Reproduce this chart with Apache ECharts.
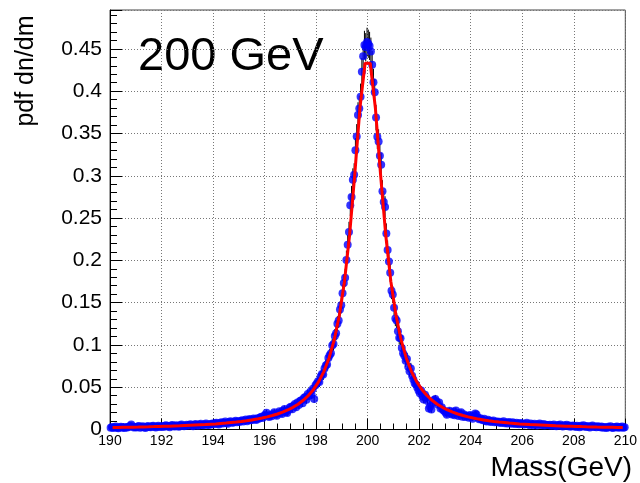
<!DOCTYPE html>
<html>
<head>
<meta charset="utf-8">
<script src="https://cdn.jsdelivr.net/npm/echarts@6/dist/echarts.min.js"></script>
<style>
html,body{margin:0;padding:0;background:#fff;}
#chart{width:640px;height:483px;}
</style>
</head>
<body>
<div id="chart"></div>
<script>
// Histogram binning (400 bins of 0.05 GeV from 190 to 210)
const binLow = 190;
const binWidth = 0.05;

// Measured pdf dn/dm per bin (left to right)
const pdfValues = [
0.0021,0.0030,0.0018,0.0026,0.0035,0.0022,0.0015,0.0028,0.0033,0.0020,0.0027,0.0019,0.0031,0.0024,0.0029,0.0042,0.0058,0.0036,0.0023,0.0030,
0.0025,0.0034,0.0040,0.0022,0.0031,0.0037,0.0028,0.0019,0.0033,0.0041,0.0030,0.0026,0.0038,0.0045,0.0032,0.0024,0.0036,0.0043,0.0029,0.0035,
0.0039,0.0031,0.0044,0.0050,0.0034,0.0041,0.0028,0.0046,0.0053,0.0038,0.0035,0.0049,0.0042,0.0033,0.0051,0.0058,0.0044,0.0037,0.0048,0.0055,
0.0043,0.0052,0.0061,0.0047,0.0039,0.0056,0.0064,0.0050,0.0045,0.0059,0.0068,0.0054,0.0049,0.0062,0.0071,0.0057,0.0052,0.0066,0.0060,0.0070,
0.0063,0.0074,0.0080,0.0067,0.0059,0.0078,0.0087,0.0072,0.0081,0.0095,0.0076,0.0069,0.0088,0.0098,0.0083,0.0079,0.0093,0.0102,0.0086,0.0097,
0.0089,0.0101,0.0110,0.0094,0.0106,0.0118,0.0099,0.0112,0.0125,0.0108,0.0116,0.0131,0.0121,0.0113,0.0134,0.0127,0.0142,0.0151,0.0136,0.0160,
0.0175,0.0198,0.0162,0.0149,0.0171,0.0158,0.0183,0.0205,0.0176,0.0163,0.0191,0.0215,0.0199,0.0184,0.0226,0.0243,0.0208,0.0195,0.0232,0.0261,
0.0268,0.0239,0.0281,0.0302,0.0263,0.0318,0.0289,0.0336,0.0347,0.0310,0.0371,0.0385,0.0352,0.0420,0.0398,0.0446,0.0412,0.0481,0.0362,0.0524,
0.0545,0.0571,0.0562,0.0628,0.0655,0.0649,0.0721,0.0758,0.0769,0.0846,0.0879,0.0902,0.0994,0.1012,0.1105,0.1139,0.1251,0.1290,0.1418,0.1468,
0.1612,0.1731,0.1795,0.2004,0.2183,0.2336,0.2651,0.2750,0.2953,0.3012,0.3302,0.3465,0.3718,0.3795,0.3934,0.4231,0.4412,0.4547,0.4520,0.4583,
0.4561,0.4535,0.4468,0.4312,0.4105,0.3987,0.3688,0.3462,0.3405,0.3237,0.3129,0.2816,0.2689,0.2631,0.2318,0.2121,0.1985,0.1852,0.1641,0.1596,
0.1441,0.1312,0.1289,0.1163,0.1085,0.1079,0.0964,0.0902,0.0871,0.0812,0.0835,0.0742,0.0688,0.0721,0.0636,0.0592,0.0548,0.0531,0.0497,0.0462,
0.0428,0.0461,0.0391,0.0356,0.0412,0.0378,0.0338,0.0249,0.0271,0.0236,0.0312,0.0349,0.0362,0.0331,0.0295,0.0318,0.0247,0.0262,0.0231,0.0219,
0.0198,0.0173,0.0205,0.0221,0.0189,0.0176,0.0213,0.0168,0.0224,0.0195,0.0161,0.0187,0.0203,0.0152,0.0179,0.0147,0.0166,0.0158,0.0139,0.0171,
0.0151,0.0128,0.0162,0.0189,0.0176,0.0143,0.0121,0.0132,0.0118,0.0109,0.0126,0.0101,0.0095,0.0114,0.0104,0.0089,0.0098,0.0107,0.0086,0.0093,
0.0096,0.0082,0.0091,0.0078,0.0087,0.0099,0.0075,0.0083,0.0071,0.0088,0.0079,0.0068,0.0085,0.0074,0.0066,0.0081,0.0070,0.0063,0.0077,0.0069,
0.0072,0.0058,0.0066,0.0079,0.0061,0.0054,0.0070,0.0063,0.0051,0.0067,0.0059,0.0048,0.0062,0.0071,0.0055,0.0050,0.0064,0.0046,0.0057,0.0052,
0.0049,0.0056,0.0043,0.0051,0.0060,0.0045,0.0039,0.0053,0.0047,0.0058,0.0041,0.0036,0.0050,0.0044,0.0055,0.0038,0.0046,0.0033,0.0042,0.0048,
0.0040,0.0031,0.0045,0.0036,0.0027,0.0043,0.0034,0.0049,0.0038,0.0029,0.0041,0.0033,0.0024,0.0037,0.0046,0.0030,0.0035,0.0026,0.0039,0.0032,
0.0028,0.0036,0.0022,0.0031,0.0025,0.0019,0.0033,0.0027,0.0038,0.0024,0.0018,0.0030,0.0026,0.0034,0.0021,0.0029,0.0023,0.0035,0.0020,0.0027
];

// Error bar half-lengths per bin
const pdfErrors = [
0.0011,0.0014,0.0011,0.0013,0.0015,0.0012,0.0010,0.0013,0.0014,0.0011,0.0013,0.0011,0.0014,0.0012,0.0013,0.0016,0.0019,0.0015,0.0012,0.0014,
0.0012,0.0014,0.0016,0.0012,0.0014,0.0015,0.0013,0.0011,0.0014,0.0016,0.0014,0.0013,0.0015,0.0017,0.0014,0.0012,0.0015,0.0016,0.0013,0.0015,
0.0015,0.0014,0.0016,0.0018,0.0014,0.0016,0.0013,0.0017,0.0018,0.0015,0.0015,0.0017,0.0016,0.0014,0.0018,0.0019,0.0016,0.0015,0.0017,0.0018,
0.0016,0.0018,0.0019,0.0017,0.0015,0.0019,0.0020,0.0018,0.0017,0.0019,0.0020,0.0018,0.0017,0.0020,0.0021,0.0019,0.0018,0.0020,0.0019,0.0021,
0.0020,0.0021,0.0022,0.0020,0.0019,0.0022,0.0023,0.0021,0.0022,0.0024,0.0022,0.0021,0.0023,0.0025,0.0023,0.0022,0.0024,0.0025,0.0023,0.0024,
0.0023,0.0025,0.0026,0.0024,0.0026,0.0027,0.0025,0.0026,0.0028,0.0026,0.0027,0.0028,0.0027,0.0026,0.0029,0.0028,0.0030,0.0030,0.0029,0.0031,
0.0033,0.0035,0.0032,0.0030,0.0032,0.0031,0.0034,0.0036,0.0033,0.0032,0.0034,0.0036,0.0035,0.0034,0.0037,0.0039,0.0036,0.0035,0.0038,0.0040,
0.0041,0.0038,0.0042,0.0043,0.0040,0.0044,0.0042,0.0045,0.0046,0.0044,0.0048,0.0049,0.0047,0.0051,0.0049,0.0052,0.0050,0.0054,0.0047,0.0057,
0.0058,0.0059,0.0059,0.0062,0.0063,0.0063,0.0067,0.0068,0.0069,0.0072,0.0074,0.0074,0.0078,0.0079,0.0082,0.0084,0.0088,0.0089,0.0093,0.0095,
0.0100,0.0103,0.0105,0.0111,0.0116,0.0120,0.0128,0.0130,0.0135,0.0136,0.0143,0.0146,0.0151,0.0153,0.0156,0.0161,0.0165,0.0167,0.0167,0.0168,
0.0167,0.0167,0.0166,0.0163,0.0159,0.0157,0.0151,0.0146,0.0145,0.0141,0.0139,0.0132,0.0129,0.0127,0.0119,0.0114,0.0110,0.0107,0.0100,0.0099,
0.0094,0.0090,0.0089,0.0085,0.0082,0.0081,0.0077,0.0074,0.0073,0.0071,0.0072,0.0068,0.0065,0.0067,0.0063,0.0060,0.0058,0.0057,0.0055,0.0053,
0.0051,0.0053,0.0049,0.0047,0.0050,0.0048,0.0046,0.0039,0.0041,0.0038,0.0044,0.0046,0.0047,0.0045,0.0043,0.0044,0.0039,0.0040,0.0038,0.0037,
0.0035,0.0033,0.0036,0.0037,0.0034,0.0033,0.0036,0.0032,0.0037,0.0035,0.0031,0.0034,0.0035,0.0031,0.0033,0.0030,0.0032,0.0031,0.0029,0.0032,
0.0030,0.0028,0.0032,0.0034,0.0033,0.0030,0.0027,0.0028,0.0027,0.0026,0.0028,0.0025,0.0024,0.0026,0.0025,0.0023,0.0025,0.0026,0.0023,0.0024,
0.0024,0.0022,0.0024,0.0022,0.0023,0.0025,0.0021,0.0023,0.0021,0.0023,0.0022,0.0020,0.0023,0.0021,0.0020,0.0022,0.0021,0.0020,0.0022,0.0021,
0.0021,0.0019,0.0020,0.0022,0.0019,0.0018,0.0021,0.0020,0.0018,0.0020,0.0019,0.0017,0.0020,0.0021,0.0018,0.0018,0.0020,0.0017,0.0019,0.0018,
0.0017,0.0019,0.0016,0.0018,0.0019,0.0017,0.0015,0.0018,0.0017,0.0019,0.0016,0.0015,0.0018,0.0016,0.0018,0.0015,0.0017,0.0014,0.0016,0.0017,
0.0016,0.0014,0.0017,0.0015,0.0013,0.0016,0.0014,0.0017,0.0015,0.0013,0.0016,0.0014,0.0012,0.0015,0.0017,0.0014,0.0015,0.0013,0.0015,0.0014,
0.0013,0.0015,0.0012,0.0014,0.0012,0.0011,0.0014,0.0013,0.0015,0.0012,0.0011,0.0014,0.0013,0.0014,0.0011,0.0013,0.0012,0.0015,0.0011,0.0013
];

// Fit curve, sampled every 0.2 GeV starting at 190.1
const fitStart = 190.1;
const fitStep = 0.2;
const fitValues = [
0.0024,0.0025,0.0026,0.0027,0.0028,0.0029,0.0031,0.0032,0.0034,0.0035,
0.0037,0.0039,0.0041,0.0043,0.0046,0.0049,0.0052,0.0055,0.0058,0.0062,
0.0066,0.0071,0.0076,0.0082,0.0088,0.0095,0.0103,0.0113,0.0123,0.0135,
0.0149,0.0165,0.0183,0.0205,0.0231,0.0262,0.0299,0.0345,0.0402,0.0474,
0.0566,0.0685,0.0843,0.1056,0.1348,0.1751,0.2303,0.3016,0.3800,0.4330,
0.4330,0.3800,0.3016,0.2303,0.1751,0.1348,0.1056,0.0843,0.0685,0.0566,
0.0474,0.0402,0.0345,0.0299,0.0262,0.0231,0.0205,0.0183,0.0165,0.0149,
0.0135,0.0123,0.0113,0.0103,0.0095,0.0088,0.0082,0.0076,0.0071,0.0066,
0.0062,0.0058,0.0055,0.0052,0.0049,0.0046,0.0043,0.0041,0.0039,0.0037,
0.0035,0.0034,0.0032,0.0031,0.0029,0.0028,0.0027,0.0026,0.0025,0.0024
];

// Axis settings
const xMin = 190, xMax = 210, xInterval = 2;
const yMin = 0, yMax = 0.496, yInterval = 0.05;
const xTitle = 'Mass(GeV)';
const yTitle = 'pdf dn/dm';
const label = '200 GeV';

const FONT = '"Liberation Sans", Arial, Helvetica, sans-serif';

const histPoints = pdfValues.map((v, i) => [+(binLow + binWidth * (i + 0.5)).toFixed(4), v]);
const errPoints = pdfValues.map((v, i) => [histPoints[i][0], v, pdfErrors[i]]);
const fitPoints = fitValues.map((v, i) => [+(fitStart + fitStep * i).toFixed(4), v]);

const chart = echarts.init(document.getElementById('chart'), null, {renderer: 'canvas'});
chart.setOption({
  animation: false,
  backgroundColor: '#ffffff',
  grid: {
    left: 110, right: 9, top: 10, bottom: 53.5,
    show: true, borderColor: '#444', borderWidth: 1, backgroundColor: 'transparent'
  },
  xAxis: {
    type: 'value', min: xMin, max: xMax, interval: xInterval,
    axisLine: {show: true, onZero: false, lineStyle: {color: '#000', width: 1}},
    axisTick: {show: true, inside: true, length: 11, lineStyle: {color: '#000'}},
    minorTick: {show: true, splitNumber: 4, length: 6, lineStyle: {color: '#000'}},
    axisLabel: {fontFamily: FONT, fontSize: 14, color: '#000', margin: 5, showMinLabel: true, showMaxLabel: true},
    splitLine: {show: true, lineStyle: {color: '#777', type: [1, 2], width: 1}}
  },
  yAxis: {
    type: 'value', min: yMin, max: yMax, interval: yInterval,
    axisLine: {show: true, onZero: false, lineStyle: {color: '#000', width: 1}},
    axisTick: {show: true, inside: true, length: 12, lineStyle: {color: '#000'}},
    minorTick: {show: true, splitNumber: 5, length: 7, lineStyle: {color: '#000'}},
    axisLabel: {fontFamily: FONT, fontSize: 21, color: '#000', margin: 8, showMaxLabel: false},
    splitLine: {show: true, lineStyle: {color: '#777', type: [1, 2], width: 1}}
  },
  series: [
    {
      type: 'custom',
      name: 'errors',
      clip: true,
      z: 2,
      data: errPoints,
      encode: {x: 0, y: 1},
      renderItem: function (params, api) {
        const x = api.value(0), y = api.value(1), e = api.value(2);
        const p1 = api.coord([x, y - e]);
        const p2 = api.coord([x, y + e]);
        return {
          type: 'line',
          shape: {x1: p1[0], y1: p1[1], x2: p2[0], y2: p2[1]},
          style: {stroke: '#000', lineWidth: 1}
        };
      }
    },
    {
      type: 'scatter',
      name: 'data',
      z: 3,
      symbol: 'circle',
      symbolSize: 8,
      itemStyle: {color: '#0000ff'},
      emphasis: {disabled: true},
      data: histPoints
    },
    {
      type: 'line',
      name: 'fit',
      z: 4,
      showSymbol: false,
      smooth: false,
      lineStyle: {color: '#ff0000', width: 3},
      emphasis: {disabled: true},
      data: fitPoints
    }
  ],
  graphic: [
    {
      type: 'text', x: 138, y: 57,
      style: {text: label, fontFamily: FONT, fontSize: 47, fill: '#000', align: 'left', verticalAlign: 'middle'}
    },
    {
      type: 'text', x: 632, y: 468,
      style: {text: xTitle, fontFamily: FONT, fontSize: 28, fill: '#000', align: 'right', verticalAlign: 'middle'}
    },
    {
      type: 'text', x: 26, y: 71, rotation: Math.PI / 2,
      style: {text: yTitle, fontFamily: FONT, fontSize: 25, fill: '#000', align: 'center', verticalAlign: 'middle'}
    }
  ]
});
</script>
</body>
</html>
